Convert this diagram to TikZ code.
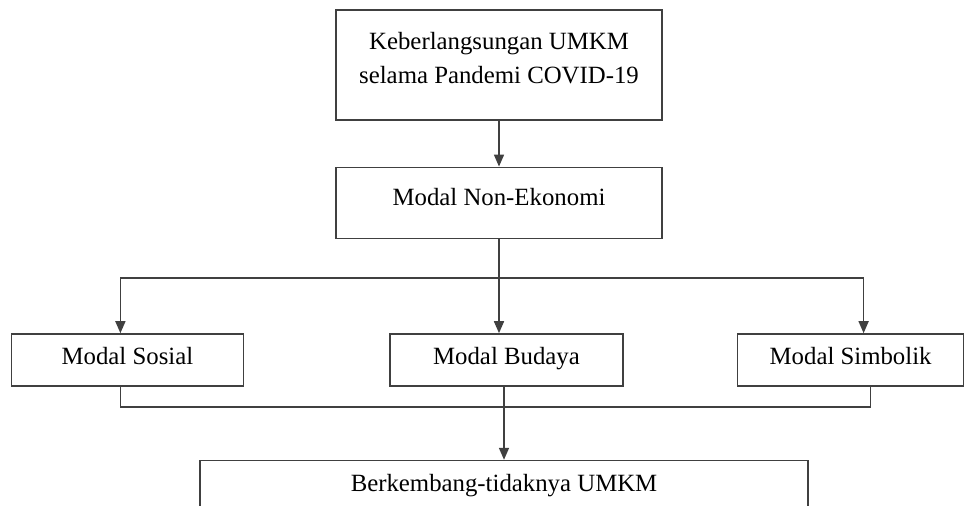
\documentclass[tikz,border=0pt]{standalone}
\usepackage{fontspec}
\setmainfont{Liberation Serif}
\usepackage{tikz}
\usetikzlibrary{positioning, arrows.meta}
\tikzset{>={Triangle[width=5pt,length=6pt]}}
\tikzset{
  box/.style={draw=black!75, line width=0.8pt, inner xsep=0pt, inner ysep=0pt,
    align=flush center, font=\fontsize{12.4pt}{17pt}\selectfont,
    text height=15.5pt, text depth=10.5pt},
  link/.style={draw=black!75, line width=0.8pt},
}

\begin{document}
\begin{tikzpicture}
  \clip (0,0) rectangle (482pt,-253pt);

  % START: Top ---------------------------------------
  \node[box, anchor=north, text width=163pt, text height=20pt, text depth=35pt]
    (keberlangsungan) at (249.5pt,-4.5pt) {Keberlangsungan UMKM\\selama Pandemi COVID-19};
  \node[box, below=23pt of keberlangsungan, minimum width=163pt,
    text height=19pt, text depth=16.5pt] (nonekonomi) {Modal Non-Ekonomi};
  % END: Top -----------------------------------------

  % START: Modal -------------------------------------
  \node[box, below=47pt of nonekonomi, xshift=3.75pt, minimum width=116.5pt] (budaya) {Modal Budaya};
  \node[box, left=72.5pt of budaya, minimum width=116pt] (sosial) {Modal Sosial};
  \node[box, right=56.5pt of budaya, minimum width=113pt] (simbolik) {Modal Simbolik};
  % END: Modal ---------------------------------------

  % START: Bottom ------------------------------------
  \node[box, below=36.5pt of budaya, xshift=-1.25pt, minimum width=304pt,
    text depth=37pt] (berkembang) {Berkembang-tidaknya UMKM};
  % END: Bottom --------------------------------------

  \coordinate[below=19.5pt of nonekonomi.south] (split);
  \coordinate[below=10pt of budaya.south] (join);

  \draw[link, ->] (keberlangsungan) -- (nonekonomi);
  \draw[link] (nonekonomi) -- (split);
  \draw[link, ->] (split) -- (nonekonomi.south |- budaya.north);
  \draw[link, ->] (split) -| ([xshift=-3.5pt]sosial.north);
  \draw[link, ->] (split) -| ([xshift=6.5pt]simbolik.north);

  \draw[link] ([xshift=-3.5pt]sosial.south) |- (join) -| ([xshift=10pt]simbolik.south);
  \draw[link, ->] (berkembang.north |- budaya.south) -- (berkembang);
\end{tikzpicture}
\end{document}
